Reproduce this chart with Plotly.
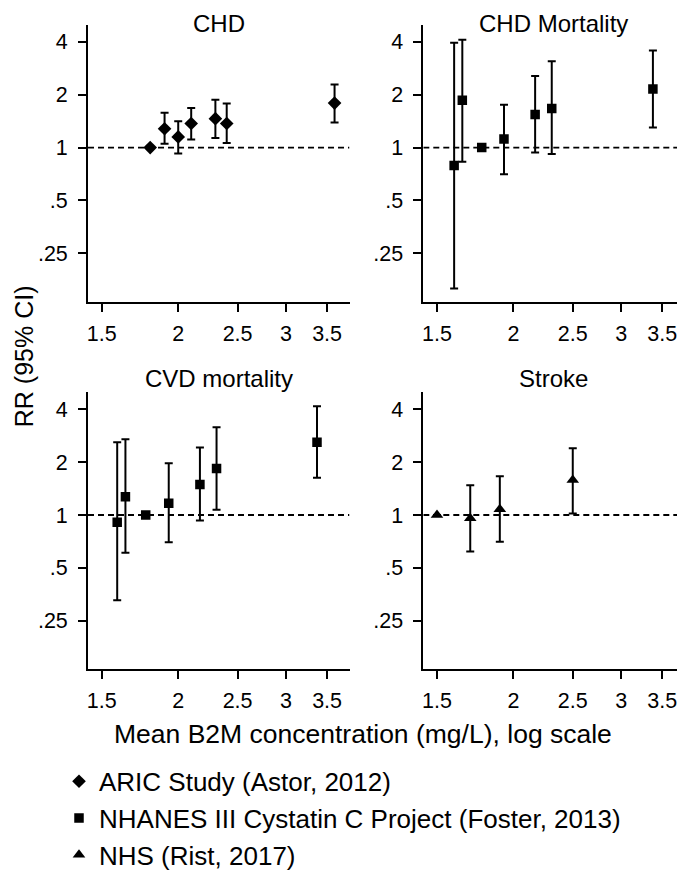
import plotly.graph_objects as go
from plotly.subplots import make_subplots
import math

# ---------------- data ----------------
panel_titles = ["CHD", "CHD Mortality", "CVD mortality", "Stroke"]
study_names = ["ARIC Study (Astor, 2012)",
               "NHANES III Cystatin C Project (Foster, 2013)",
               "NHS (Rist, 2017)"]

# CHD - ARIC
chd_x = [1.80, 1.90, 2.00, 2.10, 2.30, 2.40, 3.60]
chd_rr = [1.00, 1.28, 1.15, 1.37, 1.46, 1.37, 1.79]
chd_lo = [None, 1.05, 0.925, 1.11, 1.135, 1.06, 1.39]
chd_hi = [None, 1.58, 1.41, 1.68, 1.87, 1.78, 2.28]

# CHD mortality - NHANES III
chdm_x = [1.60, 1.65, 1.775, 1.93, 2.17, 2.31, 3.38]
chdm_rr = [0.79, 1.86, 1.00, 1.12, 1.54, 1.67, 2.15]
chdm_lo = [0.158, 0.83, None, 0.706, 0.937, 0.92, 1.30]
chdm_hi = [3.95, 4.10, None, 1.75, 2.55, 3.10, 3.56]

# CVD mortality - NHANES III
cvd_x = [1.59, 1.64, 1.77, 1.93, 2.17, 2.31, 3.37]
cvd_rr = [0.91, 1.27, 1.00, 1.165, 1.49, 1.84, 2.59]
cvd_lo = [0.328, 0.61, None, 0.70, 0.93, 1.07, 1.63]
cvd_hi = [2.59, 2.70, None, 1.97, 2.42, 3.16, 4.16]

# Stroke - NHS
str_x = [1.50, 1.70, 1.90, 2.50]
str_rr = [1.00, 0.96, 1.08, 1.58]
str_lo = [None, 0.62, 0.705, 1.02]
str_hi = [None, 1.475, 1.66, 2.40]

y_ticks = [0.25, 0.5, 1, 2, 4]
y_ticktext = [".25", ".5", "1", "2", "4"]
x_ticks = [1.5, 2, 2.5, 3, 3.5]
x_ticktext = ["1.5", "2", "2.5", "3", "3.5"]
ref_rr = 1.0
x_range = [1.4247, 3.808]
y_range = [0.1323, 4.98]

# ---------------- figure ----------------
W, H = 685, 871
OFF = 8  # page body margin of the html page
FONT = "Liberation Sans, Arial, Helvetica, sans-serif"
fig = make_subplots(rows=2, cols=2)


def err(rr, lo, hi):
    up = [float('nan') if h is None else h - r for r, h in zip(rr, hi)]
    dn = [float('nan') if l is None else r - l for r, l in zip(rr, lo)]
    return up, dn


panels = [
    (1, 1, chd_x, chd_rr, chd_lo, chd_hi, "diamond", 10.5, 0, True),
    (1, 2, chdm_x, chdm_rr, chdm_lo, chdm_hi, "square", 9.5, 1, True),
    (2, 1, cvd_x, cvd_rr, cvd_lo, cvd_hi, "square", 9.5, 1, False),
    (2, 2, str_x, str_rr, str_lo, str_hi, "triangle-up", 11, 2, True),
]

for (r, c, xs, rr, lo, hi, sym, size, si, leg) in panels:
    # reference line at RR = 1
    fig.add_trace(go.Scatter(x=[x_range[0], x_range[1]], y=[ref_rr, ref_rr],
                             mode="lines", showlegend=False, hoverinfo="skip",
                             line=dict(color="black", width=1.8, dash="6px,4px")),
                  row=r, col=c)
    up, dn = err(rr, lo, hi)
    fig.add_trace(go.Scatter(x=xs, y=rr, mode="markers", name=study_names[si],
                             legendgroup=study_names[si], showlegend=leg,
                             marker=dict(symbol=sym, size=size, color="black"),
                             error_y=dict(type="data", symmetric=False, array=up,
                                          arrayminus=dn, color="black",
                                          thickness=2, width=4)),
                  row=r, col=c)


def px_x(v):
    return (v - OFF) / W


def px_y(v):
    return (H - (v - OFF)) / H


x_domains = {1: [px_x(88), px_x(349.5)], 2: [px_x(423.3), px_x(684.6)]}
y_domains = {1: [px_y(302.7), px_y(25)], 2: [px_y(671), px_y(393.3)]}

axis_common = dict(showline=True, linecolor="black", linewidth=1.8, mirror=False,
                   ticks="outside", ticklen=8, tickwidth=1.8, tickcolor="black",
                   showgrid=False, zeroline=False,
                   tickfont=dict(family=FONT, size=21.5, color="black"))

for (r, c, *_rest) in panels:
    fig.update_xaxes(type="log", range=[math.log10(x_range[0]), math.log10(x_range[1])],
                     tickvals=x_ticks, ticktext=x_ticktext, domain=x_domains[c],
                     ticklabelstandoff=3, **axis_common, row=r, col=c)
    fig.update_yaxes(type="log", range=[math.log10(y_range[0]), math.log10(y_range[1])],
                     tickvals=y_ticks, ticktext=y_ticktext, domain=y_domains[r],
                     ticklabelstandoff=6, **axis_common, row=r, col=c)

annotations = []
cx = {1: (x_domains[1][0] + x_domains[1][1]) / 2, 2: (x_domains[2][0] + x_domains[2][1]) / 2}
for i, t in enumerate(panel_titles):
    r, c = i // 2 + 1, i % 2 + 1
    if r == 1:
        annotations.append(dict(text=t, x=cx[c], y=1, xref="paper", yref="paper",
                                xanchor="center", yanchor="top", showarrow=False,
                                font=dict(family=FONT, size=24, color="black")))
    else:
        annotations.append(dict(text=t, x=cx[c], y=px_y(379.5), xref="paper", yref="paper",
                                xanchor="center", yanchor="middle", showarrow=False,
                                font=dict(family=FONT, size=24, color="black")))
annotations.append(dict(text="RR (95% CI)", x=0, y=px_y(357), xref="paper",
                        yref="paper", xanchor="left", yanchor="middle", textangle=-90,
                        showarrow=False, font=dict(family=FONT, size=25, color="black")))
annotations.append(dict(text="Mean B2M concentration (mg/L), log scale", x=px_x(363),
                        y=px_y(736), xref="paper", yref="paper", xanchor="center",
                        yanchor="middle", showarrow=False,
                        font=dict(family=FONT, size=26.5, color="black")))

fig.update_layout(
    width=W, height=H, margin=dict(l=0, r=0, t=0, b=0),
    paper_bgcolor="white", plot_bgcolor="white",
    annotations=annotations,
    legend=dict(x=51 / W, y=(H - 751.6) / H, xanchor="left", yanchor="top",
                font=dict(family=FONT, size=26, color="black"),
                tracegroupgap=0, traceorder="grouped", bgcolor="rgba(0,0,0,0)"),
    font=dict(family=FONT, color="black"),
)

fig.write_html("out.html")
